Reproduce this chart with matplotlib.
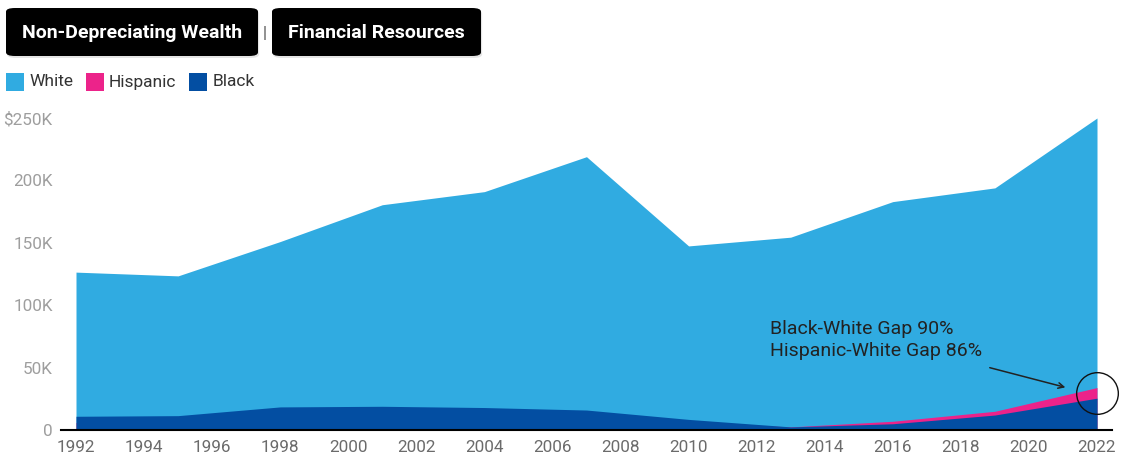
import numpy as np
import matplotlib
matplotlib.use("Agg")
from matplotlib import pyplot as plt
from matplotlib.patches import FancyBboxPatch, Rectangle

plt.rcParams['font.family'] = ['Roboto', 'DejaVu Sans']

years = [1992, 1995, 1998, 2001, 2004, 2007, 2010, 2013, 2016, 2019, 2022]
white = [126.5, 123.5, 151, 180.5, 191, 219, 147.5, 154.5, 183, 194, 250]
hispanic = [6, 7, 10, 11, 12, 13, 6, 2.5, 7, 15, 34]
black = [11, 11.5, 18.5, 19, 18, 16, 8.5, 2.5, 5, 12, 25.5]

series = [("White", white, "#30ABE1"),
          ("Hispanic", hispanic, "#EC238A"),
          ("Black", black, "#034EA2")]

buttons = ["Non-Depreciating Wealth", "Financial Resources"]
xticks = list(range(1992, 2023, 2))
yticks = [0, 50, 100, 150, 200, 250]
ylabels = ["0", "50K", "100K", "150K", "200K", "$250K"]

W, H = 1124, 457
fig = plt.figure(figsize=(W / 100, H / 100), dpi=100)
ax = fig.add_axes([61 / W, 27 / H, 1051 / W, 312 / H])

yrs = np.array(years)
for name, vals, col in series:
    ax.fill_between(yrs, 0, np.array(vals) * 1000, color=col, lw=0, zorder=2)

ax.set_xlim(1992 - 15 / 34.03, 2022 + 15 / 34.03)
ax.set_ylim(0, 250000)
ax.set_xticks(xticks)
ax.set_yticks([v * 1000 for v in yticks])
ax.set_yticklabels(ylabels)
ax.tick_params(axis='both', length=0, labelsize=12.3)
ax.tick_params(axis='x', colors='#6b6b6b', pad=7)
ax.tick_params(axis='y', colors='#9e9e9e', pad=6)
for s in ['top', 'right', 'left']:
    ax.spines[s].set_visible(False)
ax.spines['bottom'].set_color('black')
ax.spines['bottom'].set_linewidth(1.5)
ax.spines['bottom'].set_zorder(5)

# annotation
ax.text(2012.4, 72000, "Black-White Gap 90%\nHispanic-White Gap 86%",
        fontsize=14, color='#222222', va='center', ha='left',
        linespacing=1.25, zorder=6)
ax.annotate('', xy=(2021.15, 33600), xytext=(2018.77, 50500),
            arrowprops=dict(arrowstyle='->', color='#222222', lw=1.1),
            zorder=6)
ax.plot([2022], [29500], 'o', ms=30, mfc='none', mec='#111111', mew=1.0,
        clip_on=False, zorder=7)

# buttons
btn_x = [(6, 258), (272, 481)]
for (x0, x1), label in zip(btn_x, buttons):
    shadow = FancyBboxPatch((x0 / W + 0.001, (H - 58) / H), (x1 - x0) / W, 48 / H,
                            boxstyle="round,pad=0,rounding_size=0.008",
                            transform=fig.transFigure, fc='#cccccc', ec='none',
                            alpha=0.5, zorder=1)
    fig.patches.append(shadow)
    box = FancyBboxPatch((x0 / W, (H - 56) / H), (x1 - x0) / W, 48 / H,
                         boxstyle="round,pad=0,rounding_size=0.008",
                         transform=fig.transFigure, fc='black', ec='none', zorder=2)
    fig.patches.append(box)
    fig.text((x0 + x1) / 2 / W, (H - 33) / H, label, color='white',
             fontsize=14, fontweight='bold', ha='center', va='center')
fig.text(265 / W, (H - 33) / H, "|", color='#555555', fontsize=12,
         ha='center', va='center')

# legend
lx = 6
for name, vals, col in series:
    fig.patches.append(Rectangle((lx / W, (H - 91) / H), 18 / W, 18 / H,
                                 transform=fig.transFigure, fc=col, ec='none'))
    t = fig.text((lx + 23) / W, (H - 82) / H, name, fontsize=12.5,
                 color='#333333', ha='left', va='center')
    fig.canvas.draw()
    bb = t.get_window_extent()
    lx = bb.x1 + 13

fig.savefig("out.png", dpi=100)
